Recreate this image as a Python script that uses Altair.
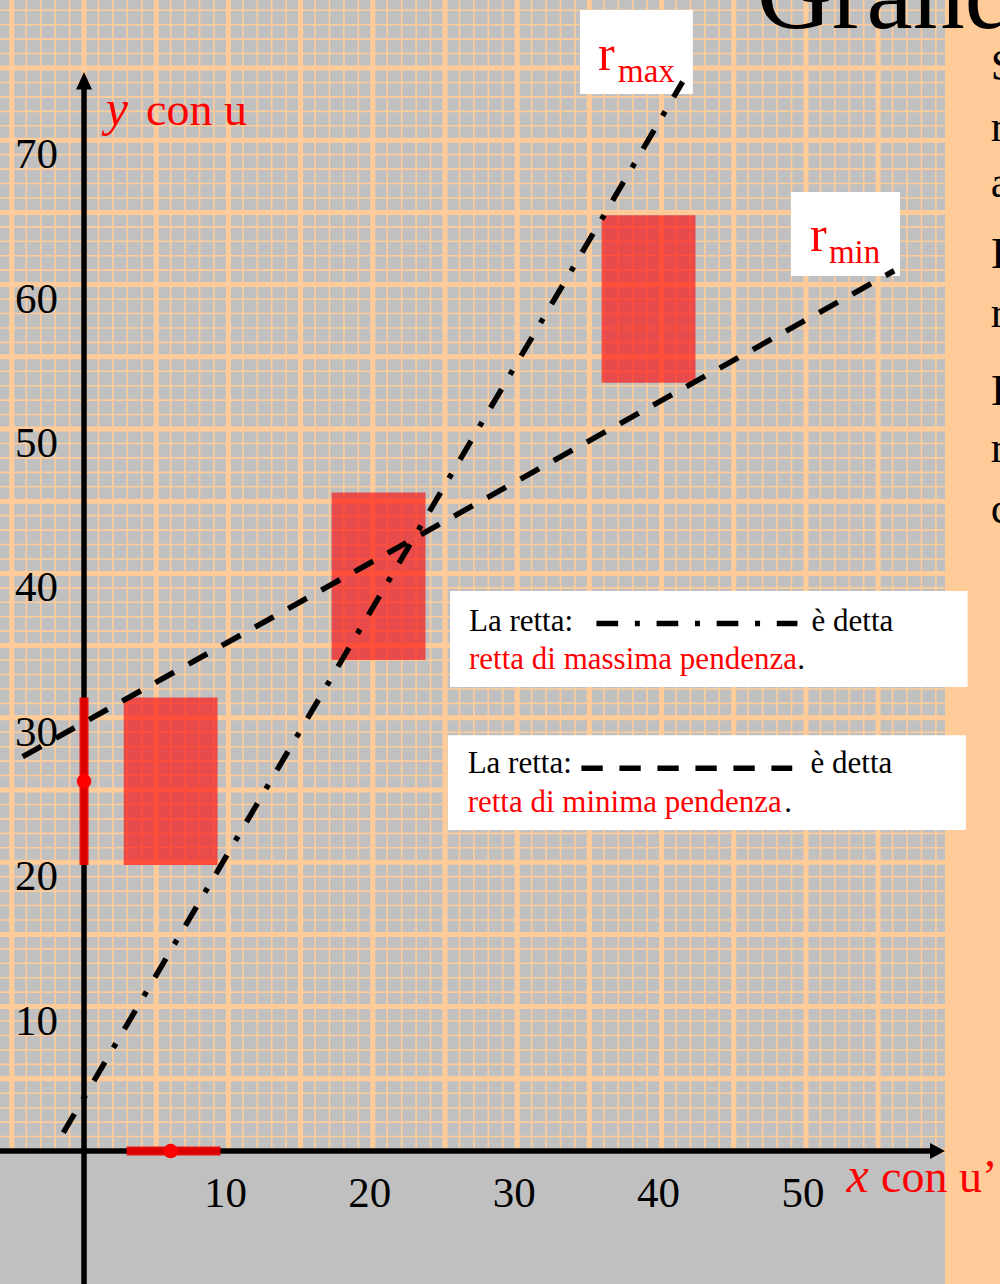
import altair as alt
import pandas as pd

SERIF = "Liberation Serif"
GRAY = "#c0c0c0"
PEACH = "#ffcc99"
RED = "#ff0000"

# ---- scale geometry (data units) ----
X_DOMAIN = [-5.82, 63.44]
Y_DOMAIN = [-9.21, 79.71]
PAPER_X_END = 59.63      # right end of the graph paper
PAPER_Y_TOP = 79.71

# ---- measured data ----
pts_x = [6.0, 20.4, 39.1]
pts_y = [25.6, 39.8, 59.0]
err_x = 3.25
err_y = 5.8

rmax_x = [-1.43, 41.46]
rmax_y = [1.27, 74.05]
rmin_x = [-4.25, 56.11]
rmin_y = [27.31, 60.96]

x_tick_labels = [10, 20, 30, 40, 50]
y_tick_labels = [10, 20, 30, 40, 50, 60, 70]

# annotation boxes (x1, x2, y1, y2)
label_boxes = [
    (34.35, 42.17, 73.2, 79.02),   # r_max
    (48.96, 56.51, 60.6, 66.41),   # r_min
    (25.35, 61.2, 32.13, 38.78),   # legend 1
    (25.2, 61.08, 22.23, 28.8),    # legend 2
]

side_letters = ["S", "r", "a", "I", "r", "I", "r", "c"]
side_letters_y = [74.17, 69.98, 66.07, 61.15, 57.06, 51.66, 47.71, 43.49]

XS = alt.Scale(domain=X_DOMAIN, nice=False, zero=False)
YS = alt.Scale(domain=Y_DOMAIN, nice=False, zero=False)


def X(f):
    return alt.X(f, type="quantitative", scale=XS, axis=None)


def Y(f):
    return alt.Y(f, type="quantitative", scale=YS, axis=None)


def rects(df, color, opacity=1.0):
    return alt.Chart(df).mark_rect(color=color, opacity=opacity, strokeWidth=0).encode(
        x=X("x1"), x2="x2", y=Y("y1"), y2="y2")


def rules(df, color, width, opacity=1.0):
    return alt.Chart(df).mark_rule(color=color, strokeWidth=width, opacity=opacity).encode(
        x=X("x1"), x2="x2", y=Y("y1"), y2="y2")


def texts(rows, size, color, align="left", style="normal", dx=0, dy=0):
    df = pd.DataFrame(rows, columns=["x", "y", "t"])
    return alt.Chart(df).mark_text(font=SERIF, fontSize=size, color=color, align=align,
                                   baseline="alphabetic", fontStyle=style, dx=dx, dy=dy).encode(
        x=X("x"), y=Y("y"), text="t:N")


# background paper
bg = rects(pd.DataFrame({"x1": [X_DOMAIN[0]], "x2": [PAPER_X_END],
                         "y1": [Y_DOMAIN[0]], "y2": [Y_DOMAIN[1]]}), GRAY)

thin_v = list(range(-5, 60))
thick_v = list(range(-5, 60, 5))
thin_h = list(range(0, 80))
thick_h = list(range(0, 80, 5))


def vlines(vals):
    return pd.DataFrame({"x1": vals, "x2": vals, "y1": [0] * len(vals), "y2": [PAPER_Y_TOP] * len(vals)})


def hlines(vals):
    return pd.DataFrame({"x1": [X_DOMAIN[0]] * len(vals), "x2": [PAPER_X_END] * len(vals),
                         "y1": vals, "y2": vals})


grid = (rules(vlines(thin_v), PEACH, 1.6) + rules(hlines(thin_h), PEACH, 1.6)
        + rules(vlines(thick_v), PEACH, 5) + rules(hlines(thick_h), PEACH, 5))

# error boxes
boxes_df = pd.DataFrame({"x": pts_x, "y": pts_y})
boxes_df["x1"] = boxes_df["x"] - err_x
boxes_df["x2"] = boxes_df["x"] + err_x
boxes_df["y1"] = boxes_df["y"] - err_y
boxes_df["y2"] = boxes_df["y"] + err_y
boxes = rects(boxes_df, RED, 0.61)

white = rects(pd.DataFrame(label_boxes, columns=["x1", "x2", "y1", "y2"]), "white")

# axes
axes_df = pd.DataFrame({"x1": [0, X_DOMAIN[0]], "x2": [0, 58.6],
                        "y1": [Y_DOMAIN[0], 0], "y2": [73.55, 0]})
axes = rules(axes_df, "black", 5.5)
arrow_up = alt.Chart(pd.DataFrame({"x": [0], "y": [74.72]})).mark_point(
    shape="M0,0L0.444,0.972L-0.444,0.972Z", size=1296, filled=True, opacity=1,
    color="black", strokeWidth=0).encode(x=X("x"), y=Y("y"))
arrow_right = alt.Chart(pd.DataFrame({"x": [PAPER_X_END], "y": [0]})).mark_point(
    shape="M0,0L-0.833,-0.444L-0.833,0.444Z", size=1296, filled=True, opacity=1,
    color="black", strokeWidth=0).encode(x=X("x"), y=Y("y"))

# error bars of the first point projected on the axes
eb_df = pd.DataFrame({"x1": [pts_x[0] - err_x + 0.2, 0], "x2": [pts_x[0] + err_x + 0.2, 0],
                      "y1": [0, pts_y[0] - err_y], "y2": [0, pts_y[0] + err_y]})
ebars = rules(eb_df, "#ee0000", 9, 0.92)
dots = alt.Chart(pd.DataFrame({"x": [pts_x[0], 0], "y": [0, pts_y[0]]})).mark_circle(
    size=210, color=RED, opacity=1).encode(x=X("x"), y=Y("y"))

DASHDOT = [21.7, 16.7, 5, 16.7]
DASHED = [21.3, 16.7]


def line(xv, yv, dash):
    df = pd.DataFrame({"x": xv, "y": yv, "o": list(range(len(xv)))})
    return alt.Chart(df).mark_line(color="black", strokeWidth=5.5, strokeDash=dash,
                                   strokeCap="butt").encode(x=X("x"), y=Y("y"), order="o:Q")


lines = (line(rmax_x, rmax_y, DASHDOT) + line(rmin_x, rmin_y, DASHED)
         + line([35.49, 49.41], [36.53, 36.53], DASHDOT)
         + line([34.45, 49.05], [26.5, 26.5], DASHED))

# texts
title = texts([(46.6, 77.77, "Grandezze")], 104, "black")
side = texts([(62.8, yy, t) for t, yy in zip(side_letters, side_letters_y)], 44, "black")
xticks = texts([(v, 0, str(v)) for v in x_tick_labels], 43, "black", align="center", dx=-3, dy=56)
yticks = texts([(-1.8, v, str(v)) for v in y_tick_labels], 43, "black", align="right", dy=28)
ax_it = texts([(1.5, 71.05, "y"), (52.8, -2.82, "x")], 50, RED, style="italic")
ax_tx = texts([(4.3, 71.05, "con u"), (55.2, -2.82, "con u\u2019")], 46, RED)
r_big = texts([(35.6, 74.86, "r"), (50.28, 62.35, "r")], 50, RED)
r_sub = texts([(36.98, 74.05, "max"), (51.59, 61.5, "min")], 33, RED)
leg_black = texts([(26.66, 36.0, "La retta:"), (50.39, 36.0, "\u00e8 detta"),
                   (26.57, 26.18, "La retta:"), (50.32, 26.18, "\u00e8 detta"),
                   (49.4, 33.38, "."), (48.5, 23.5, ".")], 31, "black")
leg_red = texts([(26.66, 33.38, "retta di massima pendenza"),
                 (26.57, 23.5, "retta di minima pendenza")], 31, RED)

chart = alt.layer(
    bg, grid, boxes, white, axes, ebars, dots, lines, arrow_up, arrow_right,
    title, side, xticks, yticks, ax_it, ax_tx, r_big, r_sub, leg_black, leg_red
).properties(
    width=1000, height=1284, padding=0, autosize=alt.AutoSizeParams(type="none"),
    background=PEACH
).configure_view(stroke=None)

chart.save("out.html", embed_options={"renderer": "svg", "actions": False})
